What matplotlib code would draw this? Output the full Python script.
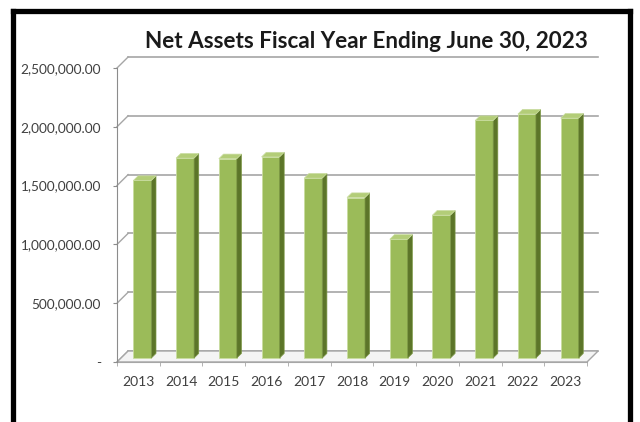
import matplotlib
matplotlib.use('Agg')
import matplotlib.pyplot as plt
from matplotlib.lines import Line2D
from matplotlib.ticker import FuncFormatter

# Net assets per fiscal year
years = ['2013', '2014', '2015', '2016', '2017', '2018', '2019', '2020', '2021', '2022', '2023']
net_assets = [1510000, 1700000, 1695000, 1710000, 1530000, 1365000,
              1010000, 1215000, 2020000, 2075000, 2040000]
y_ticks = [0, 500000, 1000000, 1500000, 2000000, 2500000]

plt.rcParams['font.family'] = ['Lato', 'DejaVu Sans']

fig = plt.figure(figsize=(6.4, 4.22), dpi=100)
fig.patch.set_facecolor('white')

# axes frame = front edge of the pseudo 3d box
ax = fig.add_axes([117 / 640, 60 / 422, 470 / 640, 294 / 422])
ax.set_xlim(-0.5, len(years) - 0.5)
ax.set_ylim(0, 2500000)
ax.patch.set_alpha(0)

# depth of the box in data units
dx = 0.26
dy = 93500
grid_col = '#a6a6a6'

# back wall gridlines and left wall diagonals
for v in y_ticks:
    ax.plot([-0.5 + dx, len(years) - 0.5 + dx], [v + dy, v + dy],
            color=grid_col, lw=1.2, clip_on=False, zorder=1)
    ax.plot([-0.5, -0.5 + dx], [v, v + dy], color=grid_col, lw=1.0,
            clip_on=False, zorder=1)

# floor
x0, x1 = -0.5, len(years) - 0.5
ax.fill([x0, x1, x1 + dx, x0 + dx], [0, 0, dy, dy], facecolor='#f4f4f4',
        edgecolor=grid_col, lw=1.0, clip_on=False, zorder=2)

# bars: front face, side face and top face
f0, f1 = 0.36, 0.78
w = 0.42
d = f1 - f0
for i, v in enumerate(net_assets):
    xl = i - w / 2 + f0 * dx
    xr = xl + w
    b = f0 * dy
    ax.bar(i + f0 * dx, v, bottom=b, width=w, color='#9bbb59',
           edgecolor='#c9dca0', lw=0.6, zorder=3, clip_on=False)
    ax.fill([xr, xr + d * dx, xr + d * dx, xr],
            [b, b + d * dy, b + v + d * dy, b + v],
            facecolor='#5c7529', edgecolor='#7d9846', lw=0.5, zorder=3, clip_on=False)
    ax.fill([xl, xr, xr + d * dx, xl + d * dx],
            [b + v, b + v, b + v + d * dy, b + v + d * dy],
            facecolor='#b3cd78', edgecolor='#c9dca0', lw=0.5, zorder=3, clip_on=False)

# axes styling
for s in ['top', 'right']:
    ax.spines[s].set_visible(False)
ax.spines['left'].set_color('#8c8c8c')
ax.spines['bottom'].set_color(grid_col)
ax.spines['left'].set_zorder(4)

ax.set_yticks(y_ticks)
ax.yaxis.set_major_formatter(FuncFormatter(lambda v, p: '-' if v == 0 else f'{v:,.2f}'))
ax.tick_params(axis='y', direction='out', length=3, color='#8c8c8c',
               labelsize=9.8, labelcolor='#404040', pad=8.5)

ax.set_xticks(range(len(years)))
ax.set_xticklabels(years)
ax.set_xticks([i - 0.5 for i in range(len(years) + 1)], minor=True)
ax.tick_params(axis='x', which='major', length=0, labelsize=10,
               labelcolor='#404040', pad=10)
ax.tick_params(axis='x', which='minor', direction='out', length=3, color=grid_col)

fig.text(366 / 640, 1 - 42 / 422, 'Net Assets Fiscal Year Ending June 30, 2023',
         ha='center', va='center', fontsize=16.2, fontweight='bold', color='#1a1a1a')

# black frame round the chart (open at the bottom)
for xs, ys in [([12.5, 12.5], [10.5, 422]), ([12.5, 629.5], [10.5, 10.5]),
               ([629.5, 629.5], [10.5, 422])]:
    fig.add_artist(Line2D([x / 640 for x in xs], [1 - y / 422 for y in ys],
                          color='black', lw=3.8, transform=fig.transFigure,
                          solid_capstyle='projecting'))

fig.savefig('out.png', dpi=100)
